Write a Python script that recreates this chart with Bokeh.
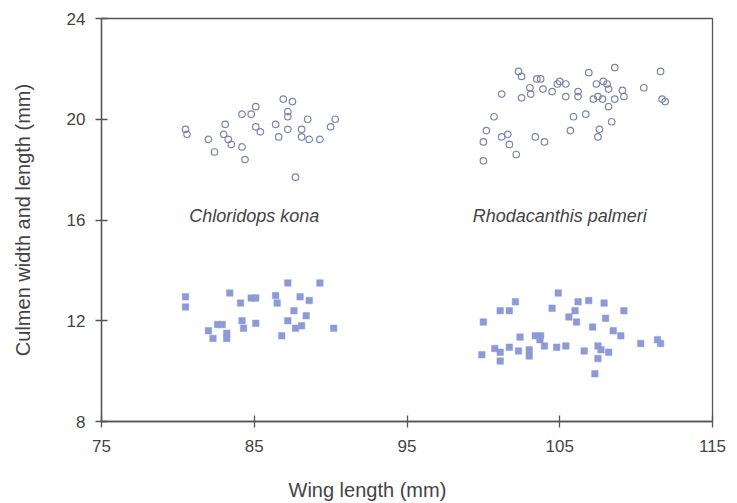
from bokeh.plotting import figure
from bokeh.models import Range1d, FixedTicker, Title
from bokeh.embed import file_html
from bokeh.resources import INLINE
from bokeh.core.properties import value

# Culmen length (open circles) vs wing length
chl_len_x = [80.5, 80.6, 82.0, 82.4, 83.1, 83.0, 83.3, 83.5, 84.2, 84.2, 84.4, 84.8, 85.1, 85.1, 85.4,
             86.4, 86.6, 86.9, 87.5, 87.2, 87.2, 87.2, 87.7, 88.1, 88.1, 88.5, 88.6, 89.3, 90.0, 90.3]
chl_len_y = [19.6, 19.4, 19.2, 18.7, 19.8, 19.4, 19.2, 19.0, 20.2, 18.9, 18.4, 20.2, 20.5, 19.7, 19.5,
             19.8, 19.3, 20.8, 20.7, 20.3, 20.1, 19.6, 17.7, 19.6, 19.3, 20.0, 19.2, 19.2, 19.7, 20.0]

rho_len_x = [102.3, 102.5, 103.5, 103.75, 103.05, 103.1, 103.9, 104.5, 105.0, 104.85, 105.4, 105.4,
             106.2, 106.2, 106.9, 108.6, 107.4, 107.85, 108.1, 108.2, 107.2, 107.5, 107.8, 108.6,
             109.1, 109.2, 110.5, 111.6, 111.7, 111.9, 101.2, 102.5, 100.7, 100.2, 100.0, 100.0,
             101.2, 101.6, 101.7, 102.15, 103.4, 104.0, 105.7, 105.9, 106.7, 107.6, 107.5, 108.2, 108.4]
rho_len_y = [21.9, 21.7, 21.6, 21.6, 21.25, 21.0, 21.2, 21.1, 21.5, 21.4, 21.4, 20.9,
             21.1, 20.9, 21.85, 22.05, 21.4, 21.5, 21.4, 21.2, 20.8, 20.9, 20.8, 20.8,
             21.15, 20.9, 21.25, 21.9, 20.8, 20.7, 21.0, 20.85, 20.1, 19.55, 19.1, 18.35,
             19.3, 19.4, 19.0, 18.6, 19.3, 19.1, 19.55, 20.1, 20.2, 19.6, 19.3, 20.5, 19.9]

# Culmen width (filled squares) vs wing length
chl_wid_x = [80.5, 80.5, 83.4, 84.1, 84.8, 85.1, 86.4, 86.5, 87.2, 89.3, 88.0, 88.6, 87.6, 88.4,
             87.2, 87.7, 88.1, 86.8, 90.2, 84.2, 84.3, 85.1, 82.6, 82.9, 82.0, 82.3, 83.2, 83.2]
chl_wid_y = [12.95, 12.55, 13.1, 12.7, 12.9, 12.9, 13.0, 12.7, 13.5, 13.5, 12.95, 12.8, 12.4, 12.2,
             12.0, 11.7, 11.8, 11.4, 11.7, 12.0, 11.7, 11.9, 11.85, 11.85, 11.6, 11.3, 11.5, 11.3]

rho_wid_x = [100.0, 99.9, 100.75, 101.1, 101.1, 101.7, 101.1, 101.7, 102.1, 102.4, 102.3, 103.0,
             103.0, 103.4, 103.75, 103.7, 104.0, 104.8, 105.4, 104.9, 104.5, 106.2, 106.0, 105.6,
             106.1, 106.9, 107.9, 109.2, 108.0, 107.15, 108.5, 109.0, 106.6, 107.5, 107.7, 108.2,
             107.5, 107.3, 110.3, 111.4, 111.6]
rho_wid_y = [11.95, 10.65, 10.9, 10.75, 10.4, 10.95, 12.4, 12.4, 12.75, 11.35, 10.8, 10.85,
             10.6, 11.4, 11.4, 11.25, 11.0, 10.95, 11.0, 13.1, 12.5, 12.75, 12.4, 12.15,
             11.95, 12.8, 12.7, 12.4, 12.1, 11.75, 11.6, 11.4, 10.8, 11.0, 10.85, 10.75,
             10.5, 9.9, 11.1, 11.25, 11.1]

x_ticks = [75, 85, 95, 105, 115]
y_ticks = [8, 12, 16, 20, 24]
species = ["Chloridops kona", "Rhodacanthis palmeri"]
species_x = [85, 105]
species_y = 16.15
x_title = "Wing length (mm)"
y_title = "Culmen width and length (mm)"

FONT = "Liberation Sans"
AXIS_C = "#555555"
TEXT_C = "#444444"

p = figure(width=737, height=503, output_backend="svg", toolbar_location=None,
           x_range=Range1d(75, 115), y_range=Range1d(8, 24),
           min_border_left=101, min_border_right=25, min_border_top=18, min_border_bottom=82)
p.background_fill_color = "white"
p.border_fill_color = "white"
p.xgrid.visible = False
p.ygrid.visible = False
p.outline_line_color = AXIS_C
p.outline_line_width = 1.3

for ax in (p.xaxis[0], p.yaxis[0]):
    ax.axis_line_color = AXIS_C
    ax.axis_line_width = 1.3
    ax.major_tick_line_color = AXIS_C
    ax.major_tick_line_width = 1.3
    ax.major_tick_in = 6
    ax.major_tick_out = 6
    ax.minor_tick_line_color = None
    ax.major_label_text_font = FONT
    ax.major_label_text_font_size = "17px"
    ax.major_label_text_color = TEXT_C

p.xaxis.ticker = FixedTicker(ticks=x_ticks)
p.yaxis.ticker = FixedTicker(ticks=y_ticks)
p.xaxis.major_label_standoff = 12
p.yaxis.major_label_standoff = 10

p.yaxis.axis_label = y_title
p.yaxis.axis_label_text_font = FONT
p.yaxis.axis_label_text_font_size = "20px"
p.yaxis.axis_label_text_font_style = "normal"
p.yaxis.axis_label_text_color = TEXT_C
p.yaxis.axis_label_standoff = 30

p.scatter(chl_len_x, chl_len_y, marker="circle", size=6.5, fill_color=None,
          line_color="#7d84a8", line_width=1.2)
p.scatter(rho_len_x, rho_len_y, marker="circle", size=6.5, fill_color=None,
          line_color="#7d84a8", line_width=1.2)
p.scatter(chl_wid_x, chl_wid_y, marker="square", size=6.5, fill_color="#8d9ad8",
          line_color="#8d9ad8", line_width=0.5)
p.scatter(rho_wid_x, rho_wid_y, marker="square", size=6.5, fill_color="#8d9ad8",
          line_color="#8d9ad8", line_width=0.5)

p.text(x=species_x, y=[species_y] * len(species), text=species,
       text_font=value(FONT), text_font_style="italic", text_font_size="18px",
       text_color=TEXT_C, text_align="center", text_baseline="middle")

p.add_layout(Title(text=x_title, align="left", offset=187, standoff=4,
                   vertical_align="bottom", padding=(0, 0, 20, 0),
                   text_font=FONT, text_font_size="20px", text_font_style="normal",
                   text_color=TEXT_C), "below")

open("out.html", "w").write(file_html(p, INLINE))
